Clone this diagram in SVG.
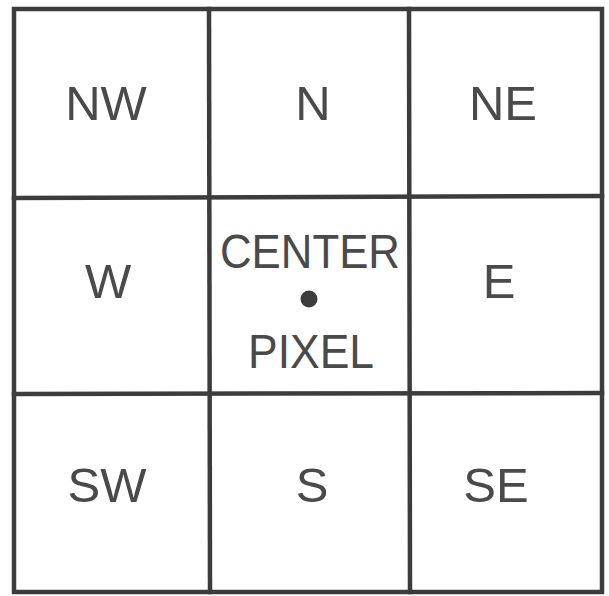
<svg xmlns="http://www.w3.org/2000/svg" width="609" height="596" viewBox="0 0 609 596">
<style>
.lbl{font-family:"Liberation Sans",Arial,sans-serif;font-size:49px;fill:#4a4a4a;text-anchor:middle}
.ln{stroke:#3c3c3c;stroke-width:4.5;fill:none;stroke-linecap:square}
</style>
<rect width="609" height="596" fill="#ffffff"/>
<g id="connectors">
<rect class="ln" x="14" y="9" width="588" height="583"/>
<line class="ln" x1="209" y1="9" x2="210" y2="592"/>
<line class="ln" x1="409" y1="9" x2="410" y2="592"/>
<line class="ln" x1="14" y1="198" x2="602" y2="196"/>
<line class="ln" x1="14" y1="394" x2="602" y2="393"/>
</g>
<g id="nw"><text class="lbl" x="106" y="120">NW</text></g>
<g id="n"><text class="lbl" x="313" y="120">N</text></g>
<g id="ne"><text class="lbl" x="503" y="120">NE</text></g>
<g id="w"><text class="lbl" x="108" y="298">W</text></g>
<g id="center"><text class="lbl" x="310" y="268" textLength="180" lengthAdjust="spacingAndGlyphs">CENTER</text><circle cx="309" cy="299" r="8.5" fill="#3c3c3c"/><text class="lbl" x="311" y="368" textLength="126" lengthAdjust="spacingAndGlyphs">PIXEL</text></g>
<g id="e"><text class="lbl" x="499" y="298">E</text></g>
<g id="sw"><text class="lbl" x="107" y="502">SW</text></g>
<g id="s"><text class="lbl" x="312" y="502">S</text></g>
<g id="se"><text class="lbl" x="496" y="502">SE</text></g>
</svg>
